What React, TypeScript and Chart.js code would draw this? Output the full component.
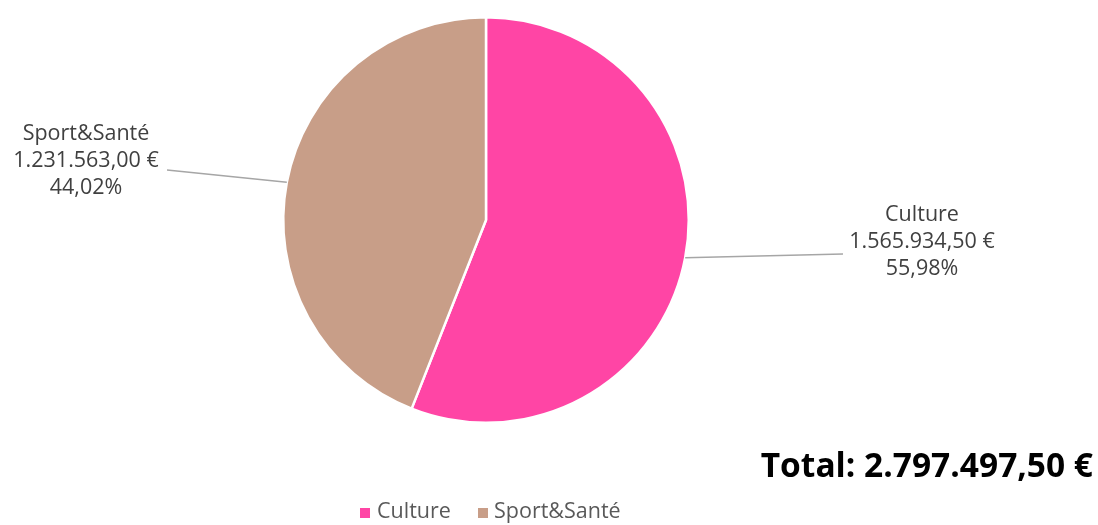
import React, { useEffect, useRef } from "react";
import { Chart, registerables } from "chart.js";

Chart.register(...registerables);

const categories = ["Culture", "Sport&Santé"];
const values = [1565934.5, 1231563.0];
const valueLabels = ["1.565.934,50 €", "1.231.563,00 €"];
const percentLabels = ["55,98%", "44,02%"];
const totalLabel = "Total: 2.797.497,50 €";
const colors = ["#FF45A5", "#C89E88"];

const FONT = "'Open Sans', 'Noto Sans', sans-serif";

const labelPlugin = {
  id: "customLabels",
  afterDraw(chart: any) {
    const ctx = chart.ctx as CanvasRenderingContext2D;
    const meta = chart.getDatasetMeta(0);
    ctx.save();
    const labelPos = [
      { x: 922, y: 242, lineEnd: { x: 843, y: 254 } },
      { x: 86, y: 161, lineEnd: { x: 167, y: 170 } },
    ];
    meta.data.forEach((arc: any, i: number) => {
      const p = arc.getProps(["x", "y", "startAngle", "endAngle", "outerRadius"], true);
      const mid = (p.startAngle + p.endAngle) / 2;
      const sx = p.x + Math.cos(mid) * p.outerRadius;
      const sy = p.y + Math.sin(mid) * p.outerRadius;
      const lp = labelPos[i];
      ctx.strokeStyle = "#A6A6A6";
      ctx.lineWidth = 1.5;
      ctx.beginPath();
      ctx.moveTo(sx, sy);
      ctx.lineTo(lp.lineEnd.x, lp.lineEnd.y);
      ctx.stroke();
      ctx.fillStyle = "#404040";
      ctx.font = `21.5px ${FONT}`;
      ctx.textAlign = "center";
      ctx.textBaseline = "middle";
      ctx.fillText(categories[i], lp.x, lp.y - 27);
      ctx.fillText(valueLabels[i], lp.x, lp.y);
      ctx.fillText(percentLabels[i], lp.x, lp.y + 27);
    });
    ctx.fillStyle = "#000000";
    ctx.font = `bold 33.5px ${FONT}`;
    ctx.textAlign = "right";
    ctx.textBaseline = "middle";
    ctx.fillText(totalLabel, 1093, 467);
    ctx.font = `21.5px ${FONT}`;
    ctx.textAlign = "left";
    ctx.textBaseline = "middle";
    const legendY = 512;
    const items = [
      { sq: 360, tx: 377 },
      { sq: 478, tx: 494 },
    ];
    items.forEach((it, i) => {
      ctx.fillStyle = colors[i];
      ctx.fillRect(it.sq, legendY - 4, 10, 10);
      ctx.fillStyle = "#595959";
      ctx.fillText(categories[i], it.tx, legendY);
    });
    ctx.restore();
  },
};

export default function App() {
  const ref = useRef<HTMLCanvasElement>(null);
  useEffect(() => {
    document.body.style.margin = "0";
    const chart = new Chart(ref.current!, {
      type: "pie",
      data: {
        labels: categories,
        datasets: [
          {
            data: values,
            backgroundColor: colors,
            borderColor: "#FFFFFF",
            borderWidth: 2.5,
          },
        ],
      },
      options: {
        animation: false,
        responsive: false,
        layout: { padding: { left: 282, right: 408, top: 16, bottom: 101 } },
        plugins: { legend: { display: false }, tooltip: { enabled: false } },
      },
      plugins: [labelPlugin],
    });
    return () => chart.destroy();
  }, []);
  return (
    <div style={{ width: 1098, height: 525, background: "#fff" }}>
      <canvas ref={ref} width={1098} height={525} style={{ display: "block" }} />
    </div>
  );
}
